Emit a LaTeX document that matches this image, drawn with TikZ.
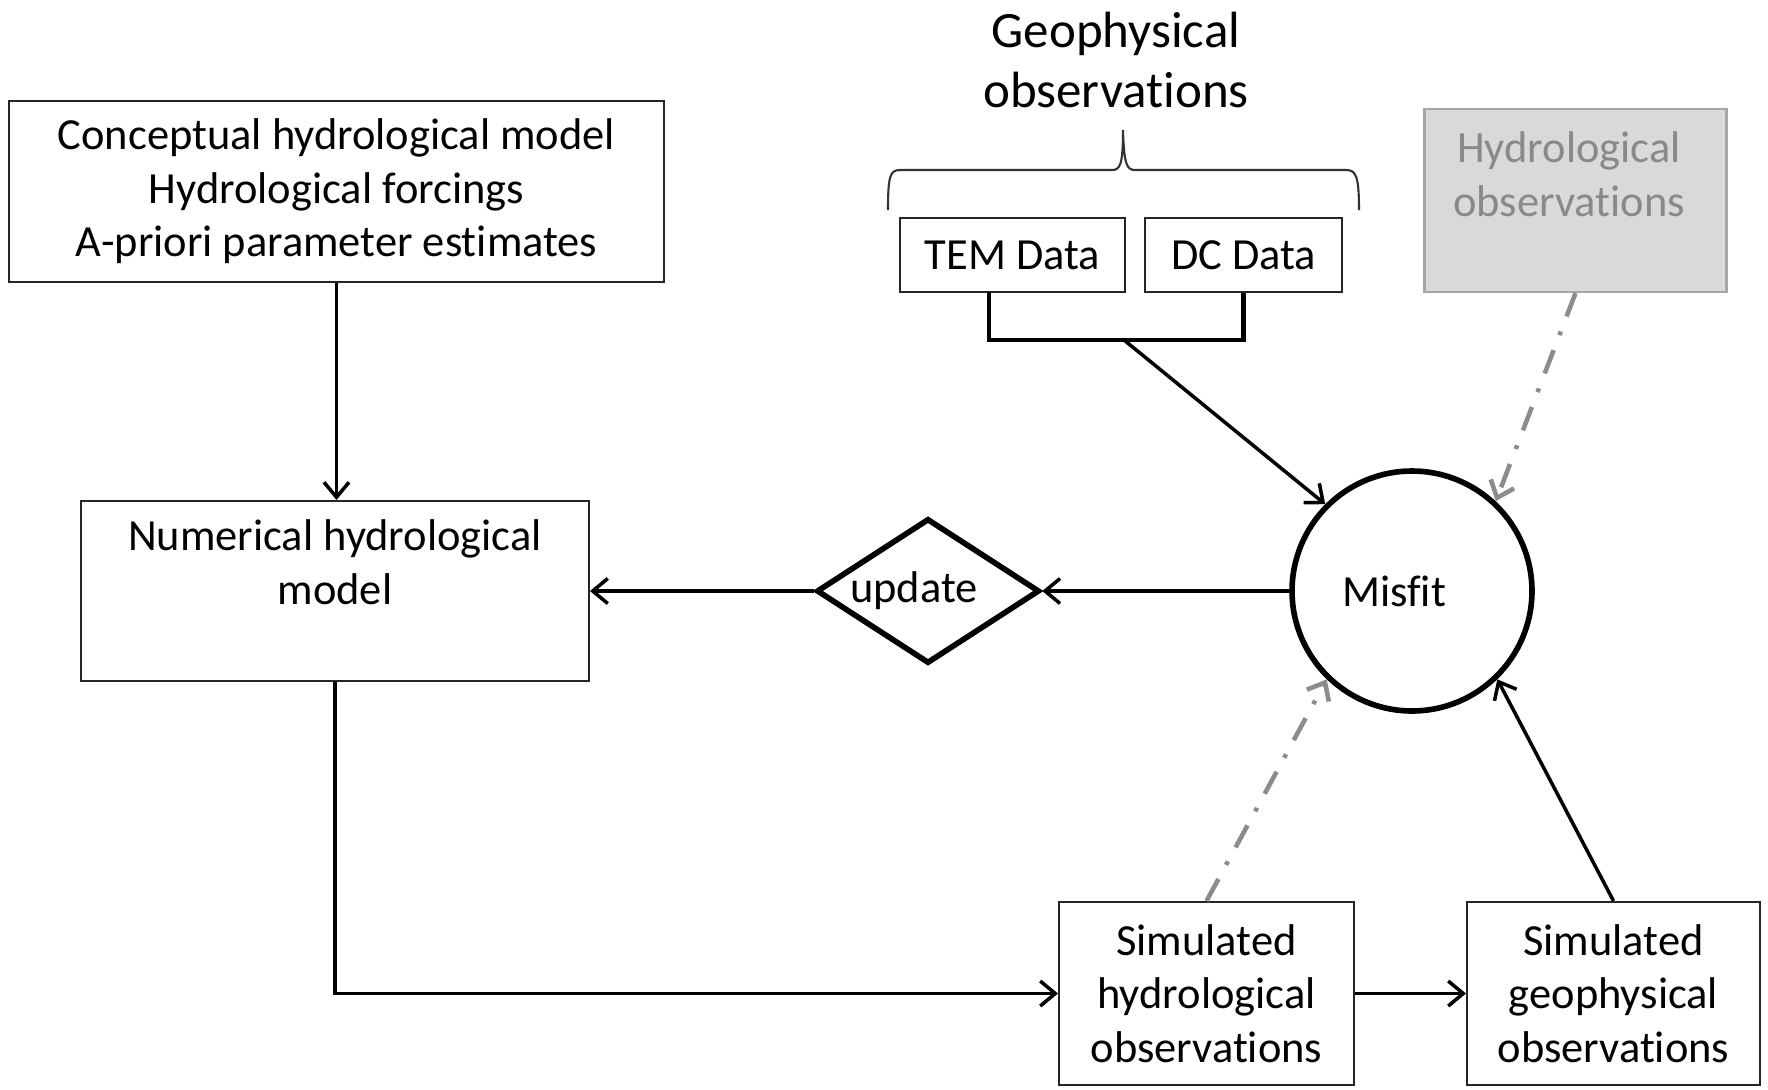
\documentclass[tikz,border=0pt]{standalone}
\usepackage{fontspec}
\setmainfont{Carlito}[Ligatures=NoCommon]
\usepackage{tikz}
\usetikzlibrary{arrows.meta,shapes.geometric}
\definecolor{ObsFill}{RGB}{217,217,217}
\definecolor{ObsEdge}{RGB}{166,166,166}
\definecolor{ObsText}{RGB}{137,137,137}
\definecolor{LinkGray}{RGB}{140,140,140}
\tikzset{
  txt/.style={font=\fontsize{25.3}{30.5}\selectfont,align=center,inner sep=0pt},
  headtxt/.style={font=\fontsize{29}{34}\selectfont,align=center,inner sep=0pt},
  blk/.style={draw=black!85,line width=1.2pt,fill=white,txt},
  gblk/.style={draw=ObsEdge,line width=1.3pt,fill=ObsFill,txt},
  ring/.style={circle,draw=black,line width=3.2pt,minimum size=4.8cm,txt},
  rhomb/.style={diamond,aspect=1.54,draw=black,line width=3.2pt,minimum width=4.46cm,minimum height=2.9cm,txt},
  link/.style={draw=black,line width=2pt,-{Straight Barb[length=0.3cm,width=0.5cm]}},
  glink/.style={draw=LinkGray,line width=2.6pt,dash pattern=on 0.5cm off 0.32cm on 0.08cm off 0.32cm,
    -{Straight Barb[length=0.3cm,width=0.5cm]}},
  bracketline/.style={draw=black,line width=2.6pt},
  braceline/.style={draw=black!80,line width=1.2pt},
}

\begin{document}
\begin{tikzpicture}[x=0.02cm,y=-0.02cm]
\useasboundingbox (0,0) rectangle (1768,1089);
\node[blk,minimum width=13.1cm,minimum height=3.62cm] (concept) at (336.5,191.5) {Conceptual hydrological model\\Hydrological forcings\\A-priori parameter estimates};
\node[blk,minimum width=10.16cm,minimum height=3.6cm] (numer) at (335,591) {};
\node[txt] (numertext) at (335,562) {Numerical hydrological\\model};
\node[headtxt] (geotitle) at (1116,60) {Geophysical\\observations};
\node[blk,minimum width=4.5cm,minimum height=1.48cm] (tem) at (1012.5,255) {TEM Data};
\node[blk,minimum width=3.94cm,minimum height=1.48cm] (dc) at (1243.5,255) {DC Data};
\node[gblk,minimum width=6.04cm,minimum height=3.66cm] (hydobs) at (1575.5,200.5) {};
\node[txt,text=ObsText] (hydobstext) at (1569,174) {Hydrological\\observations};
\node[ring] (misfit) at (1412,591) {Misfit\hspace{0.72cm}};
\node[rhomb] (update) at (928,591) {update\hspace{0.56cm}};
\node[blk,minimum width=5.9cm,minimum height=3.66cm] (simhyd) at (1206.5,993.5) {Simulated\\hydrological\\observations};
\node[blk,minimum width=5.86cm,minimum height=3.66cm] (simgeo) at (1613.5,993.5) {Simulated\\geophysical\\observations};
\coordinate (temfoot) at (989,292);
\coordinate (geojoin) at (1124,340);
\draw[braceline] (888,210) .. controls (888,176) and (890,170) .. (900,170) -- (1112,170)
  .. controls (1120,170) and (1123,165) .. (1123,130)
  .. controls (1124,165) and (1127,170) .. (1135,170) -- (1346,170)
  .. controls (1356,170) and (1359,176) .. (1359,210);
\draw[bracketline] (temfoot) -- (temfoot |- geojoin) -- (dc.south |- geojoin) -- (dc.south);
\draw[link] (concept.south) -- (concept.south |- numer.north);
\draw[link] (geojoin) -- (misfit.135);
\draw[glink] (hydobs.south) -- (misfit.47);
\draw[link] (misfit.west) -- (update.east);
\draw[link] (update.west) -- (numer.east);
\draw[link] (numer.south) |- (simhyd.west);
\draw[link] (simhyd.east) -- (simgeo.west);
\draw[glink] (simhyd.north) -- (misfit.-134);
\draw[link] (simgeo.north) -- (misfit.-46);
\end{tikzpicture}
\end{document}
